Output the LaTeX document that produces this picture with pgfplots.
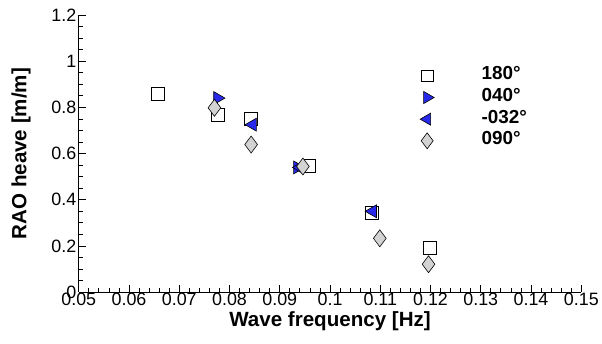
\documentclass[border=0pt]{standalone}
\usepackage{fontspec}
\setmainfont{Liberation Sans}
\usepackage{pgfplots}
\pgfplotsset{compat=1.18}
\definecolor{mblue}{RGB}{40,40,235}
\definecolor{mgray}{RGB}{211,211,211}
\pgfplotsset{
  lgimg/.style={legend image code/.code={\path (0bp,-2bp) (83bp,-2bp); \draw[mark repeat=2,mark phase=2,##1,mark size=#1] plot coordinates {(0bp,-2bp)(30bp,-2bp)(83bp,-2bp)};}},
}
\begin{document}
\begin{tikzpicture}
\begin{axis}[
  at={(0,0)}, anchor=south west,
  scale only axis, width=504bp, height=278bp,
  xmin=0.05, xmax=0.15, ymin=0, ymax=1.2,
  axis x line*=bottom, axis y line*=left,
  axis line style={line width=1pt},
  xtick={0.05,0.06,...,0.15}, ytick={0,0.2,...,1.2},
  minor x tick num=4, minor y tick num=3,
  tick align=inside,
  major tick length=7bp, minor tick length=4bp,
  tick style={line width=0.8pt, black},
  /pgf/number format/assume math mode=true,
  xticklabels={0.05,0.06,0.07,0.08,0.09,0.1,0.11,0.12,0.13,0.14,0.15},
  yticklabels={0,0.2,0.4,0.6,0.8,1,1.2},
  tick label style={font=\fontsize{18}{20}\selectfont},
  xticklabel style={yshift=3bp},
  yticklabel style={xshift=1bp},
  xlabel={\textbf{Wave frequency [Hz]}},
  ylabel={\textbf{RAO heave [m/m]}},
  xlabel style={font=\fontsize{20.7}{23}\selectfont, yshift=1bp},
  ylabel style={font=\fontsize{20.7}{23}\selectfont, yshift=14bp},
  legend style={draw=none, fill=none, at={(0.633,0.82)}, anchor=north west,
    font=\bfseries\fontsize{19}{21}\selectfont, row sep=4bp, inner sep=0pt,
    nodes={inner sep=1.5bp}},
  legend cell align=left,
]
\addplot[only marks, lgimg=5.8bp, mark=square*, mark size=6.5bp, mark options={fill=white, draw=black, line width=0.6pt}]
  coordinates {(0.0657,0.859)(0.0777,0.768)(0.0843,0.751)(0.0958,0.545)(0.1083,0.345)(0.1198,0.194)};
\addlegendentry{180°}
\addplot[only marks, lgimg=7bp, mark=triangle*, mark size=7.5bp, mark options={rotate=270, fill=mblue, draw=black, line width=0.6pt}]
  coordinates {(0.0776,0.840)(0.0935,0.540)};
\addlegendentry{040°}
\addplot[only marks, lgimg=7bp, mark=triangle*, mark size=7.5bp, mark options={rotate=90, fill=mblue, draw=black, line width=0.6pt}]
  coordinates {(0.0846,0.725)(0.1085,0.350)(0.0940,0.540)};
\addlegendentry{-032°}
\addplot[only marks, lgimg=8bp, mark=diamond*, mark size=8.5bp, mark options={fill=mgray, draw=black, line width=0.6pt}]
  coordinates {(0.0770,0.798)(0.0843,0.639)(0.0946,0.544)(0.1099,0.233)(0.1196,0.121)};
\addlegendentry{090°}
\end{axis}
\path[use as bounding box] (-79bp,-52bp) rectangle (523bp,293bp);
\end{tikzpicture}
\end{document}
